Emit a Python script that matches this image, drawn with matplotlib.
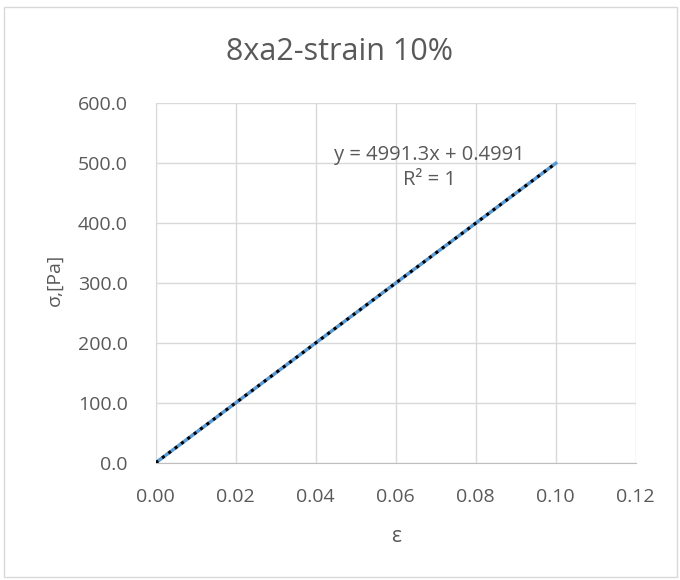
import matplotlib
matplotlib.use("Agg")
import matplotlib.pyplot as plt
import numpy as np
from matplotlib.patches import Rectangle

plt.rcParams['font.family'] = ['Open Sans', 'DejaVu Sans']

strain = [0.0, 0.01, 0.02, 0.03, 0.04, 0.05, 0.06, 0.07, 0.08, 0.09, 0.10]
stress = [0.5, 50.4, 100.3, 150.2, 200.2, 250.1, 300.0, 349.9, 399.8, 449.7, 499.6]
x_ticks = [0.00, 0.02, 0.04, 0.06, 0.08, 0.10, 0.12]
y_ticks = [0, 100, 200, 300, 400, 500, 600]

text_color = '#595959'
grid_color = '#d9d9d9'

fig = plt.figure(figsize=(6.8, 5.8), dpi=100)
ax = fig.add_axes([0.229, 0.2017, 0.706, 0.6207])

# outer chart border
fig.patches.append(Rectangle((0.006, 0.005), 0.99, 0.983, transform=fig.transFigure,
                             fill=False, edgecolor=grid_color, linewidth=1))

ax.plot(strain, stress, color='#5b9bd5', linewidth=2.5, zorder=3)

# linear trendline
k, b = np.polyfit(strain, stress, 1)
xt = np.array([strain[0], strain[-1]])
ax.plot(xt, k * xt + b, color='black', linestyle=(0, (1, 1.6)), linewidth=2.2, zorder=4)

ax.set_xlim(0, 0.12)
ax.set_ylim(0, 600)
ax.set_xticks(x_ticks)
ax.set_yticks(y_ticks)
ax.set_xticklabels([f'{v:.2f}' for v in x_ticks])
ax.set_yticklabels([f'{v:.1f}' for v in y_ticks])
ax.tick_params(axis='y', length=0, labelsize=14, colors=text_color, pad=20)
ax.tick_params(axis='x', length=0, labelsize=14, colors=text_color, pad=18)
ax.grid(True, color=grid_color, linewidth=1)
ax.set_axisbelow(True)
for s in ['top', 'right']:
    ax.spines[s].set_visible(False)
ax.spines['left'].set_color(grid_color)
ax.spines['bottom'].set_color('#bfbfbf')

ax.set_xlabel('ε', fontsize=15, color=text_color)
ax.xaxis.set_label_coords(0.5, -0.205)
ax.xaxis.label.set_va('center')
ax.set_ylabel('σ,[Pa]', fontsize=14, color=text_color)
ax.yaxis.set_label_coords(-0.21, 0.51)
ax.yaxis.label.set_va('center')
fig.text(0.5, 0.91, '8xa2-strain 10%', ha='center', va='center', fontsize=22, color=text_color)

ax.text(0.0685, 493, 'y = 4991.3x + 0.4991\nR² = 1', ha='center', va='center',
        fontsize=14.5, color=text_color, linespacing=1.35)

fig.savefig('out.png', dpi=100)
